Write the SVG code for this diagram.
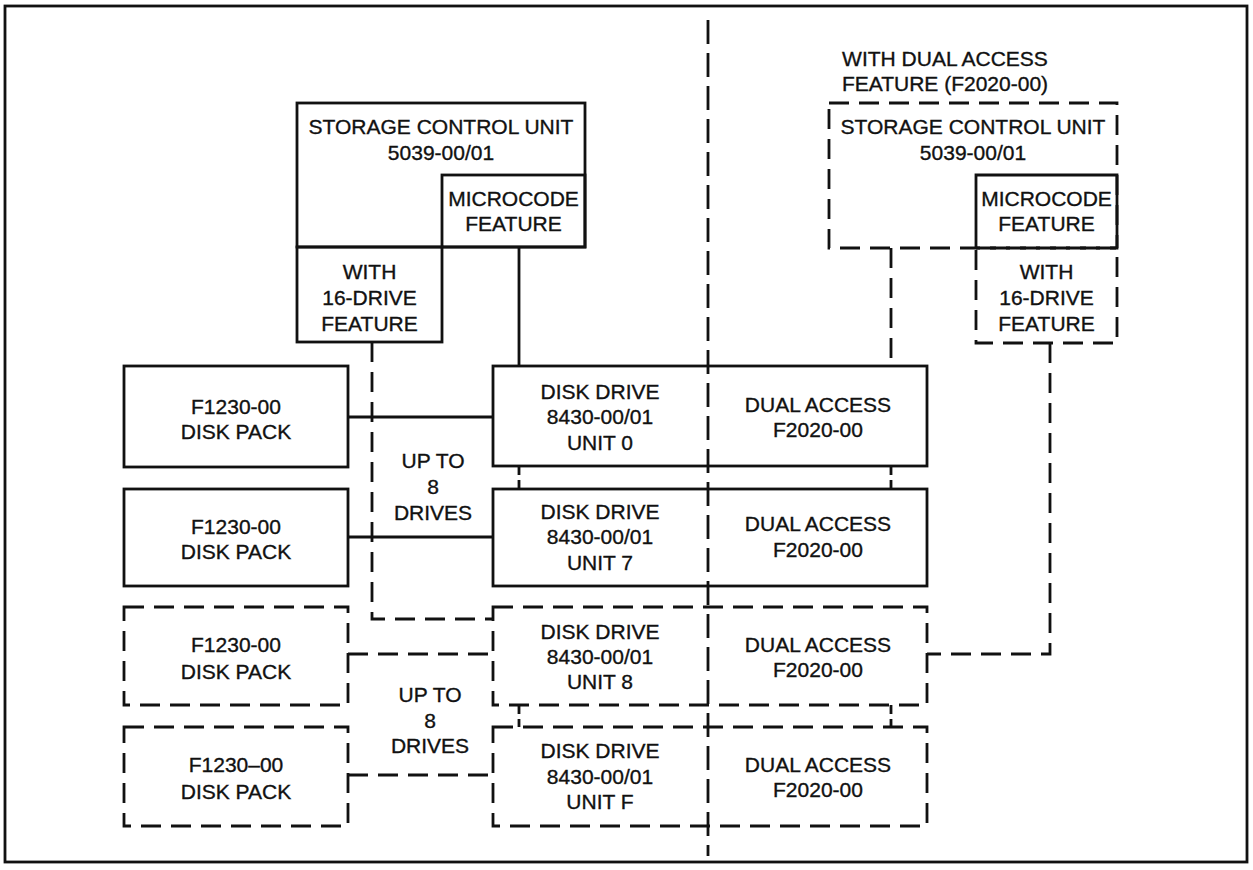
<svg xmlns="http://www.w3.org/2000/svg" width="1253" height="870" viewBox="0 0 1253 870">
<style>
  .box { fill: none; stroke: #111; stroke-width: 2.8; }
  .dbox { fill: none; stroke: #111; stroke-width: 2.8; stroke-dasharray: 20 10; }
  .ln { fill: none; stroke: #111; stroke-width: 2.8; }
  .dln { fill: none; stroke: #111; stroke-width: 2.8; stroke-dasharray: 20 10; }
  .chain { fill: none; stroke: #111; stroke-width: 2.8; stroke-dasharray: 9 5; }
  .div { fill: none; stroke: #111; stroke-width: 2.8; stroke-dasharray: 24 9; }
  text { font-family: "Liberation Sans", Arial, sans-serif; font-size: 21px; fill: #111; stroke: #111; stroke-width: 0.35; text-anchor: middle; }
</style>
<rect x="0" y="0" width="1253" height="870" fill="#fff"/>
<g id="frame"><rect class="box" x="5" y="6" width="1242" height="856"/></g>

<g id="scu-left">
  <rect class="box" x="297" y="103" width="288" height="144"/>
  <text x="441" y="134">STORAGE CONTROL UNIT</text>
  <text x="441" y="160">5039-00/01</text>
</g>
<g id="microcode-left">
  <rect class="box" x="442" y="175" width="143" height="72"/>
  <text x="513.5" y="206">MICROCODE</text>
  <text x="513.5" y="231">FEATURE</text>
</g>
<g id="drive16-left">
  <rect class="box" x="297" y="247" width="145" height="95"/>
  <text x="369.5" y="279">WITH</text>
  <text x="369.5" y="305">16-DRIVE</text>
  <text x="369.5" y="331">FEATURE</text>
</g>

<g id="dual-title">
  <text x="945" y="66">WITH DUAL ACCESS</text>
  <text x="945" y="91">FEATURE (F2020-00)</text>
</g>
<g id="scu-right">
  <rect class="dbox" x="829" y="103" width="288" height="145"/>
  <text x="973" y="134">STORAGE CONTROL UNIT</text>
  <text x="973" y="160">5039-00/01</text>
</g>
<g id="microcode-right">
  <path class="box" d="M976 248 V175 H1117 V248"/>
  <text x="1046.5" y="206">MICROCODE</text>
  <text x="1046.5" y="231">FEATURE</text>
</g>
<g id="drive16-right">
  <rect class="dbox" x="976" y="248" width="141" height="95"/>
  <text x="1046.5" y="279">WITH</text>
  <text x="1046.5" y="305">16-DRIVE</text>
  <text x="1046.5" y="331">FEATURE</text>
</g>

<g id="pack-1">
  <rect class="box" x="124" y="366" width="224" height="101"/>
  <text x="236" y="414">F1230-00</text>
  <text x="236" y="439">DISK PACK</text>
</g>
<g id="pack-2">
  <rect class="box" x="124" y="489" width="224" height="97"/>
  <text x="236" y="534">F1230-00</text>
  <text x="236" y="559">DISK PACK</text>
</g>
<g id="pack-3">
  <rect class="dbox" x="124" y="607" width="224" height="98"/>
  <text x="236" y="652">F1230-00</text>
  <text x="236" y="679">DISK PACK</text>
</g>
<g id="pack-4">
  <rect class="dbox" x="124" y="727" width="224" height="99"/>
  <text x="236" y="772">F1230–00</text>
  <text x="236" y="799">DISK PACK</text>
</g>

<g id="drive-0">
  <rect class="box" x="493" y="366" width="434" height="100"/>
  <text x="600" y="399">DISK DRIVE</text>
  <text x="600" y="424">8430-00/01</text>
  <text x="600" y="450">UNIT 0</text>
  <text x="818" y="412">DUAL ACCESS</text>
  <text x="818" y="437">F2020-00</text>
</g>
<g id="drive-7">
  <rect class="box" x="493" y="489" width="434" height="97"/>
  <text x="600" y="519">DISK DRIVE</text>
  <text x="600" y="544">8430-00/01</text>
  <text x="600" y="570">UNIT 7</text>
  <text x="818" y="531">DUAL ACCESS</text>
  <text x="818" y="557">F2020-00</text>
</g>
<g id="drive-8">
  <rect class="dbox" x="493" y="607" width="434" height="98"/>
  <text x="600" y="639">DISK DRIVE</text>
  <text x="600" y="664">8430-00/01</text>
  <text x="600" y="689">UNIT 8</text>
  <text x="818" y="652">DUAL ACCESS</text>
  <text x="818" y="677">F2020-00</text>
</g>
<g id="drive-F">
  <rect class="dbox" x="493" y="727" width="434" height="99"/>
  <text x="600" y="758">DISK DRIVE</text>
  <text x="600" y="784">8430-00/01</text>
  <text x="600" y="809">UNIT F</text>
  <text x="818" y="772">DUAL ACCESS</text>
  <text x="818" y="797">F2020-00</text>
</g>

<g id="upto-1">
  <text x="433" y="468">UP TO</text>
  <text x="433" y="494">8</text>
  <text x="433" y="520">DRIVES</text>
</g>
<g id="upto-2">
  <text x="430" y="702">UP TO</text>
  <text x="430" y="728">8</text>
  <text x="430" y="753">DRIVES</text>
</g>

<g id="divider">
  <path class="div" d="M708 20 V856"/>
</g>

<g id="connectors">
  <path class="ln" d="M519 247 V366"/>
  <path class="dln" d="M372 342 V619 H493"/>
  <path class="dln" d="M891 248 V366"/>
  <path class="dln" d="M1050 343 V654 H927"/>
  <path class="ln" d="M348 417 H493"/>
  <path class="ln" d="M348 537 H493"/>
  <path class="dln" d="M348 654 H493"/>
  <path class="dln" d="M348 775 H493"/>
  <path class="chain" d="M519 466 V489"/>
  <path class="chain" d="M891 466 V489"/>
  <path class="chain" d="M519 705 V727"/>
  <path class="chain" d="M891 705 V727"/>
</g>
</svg>
